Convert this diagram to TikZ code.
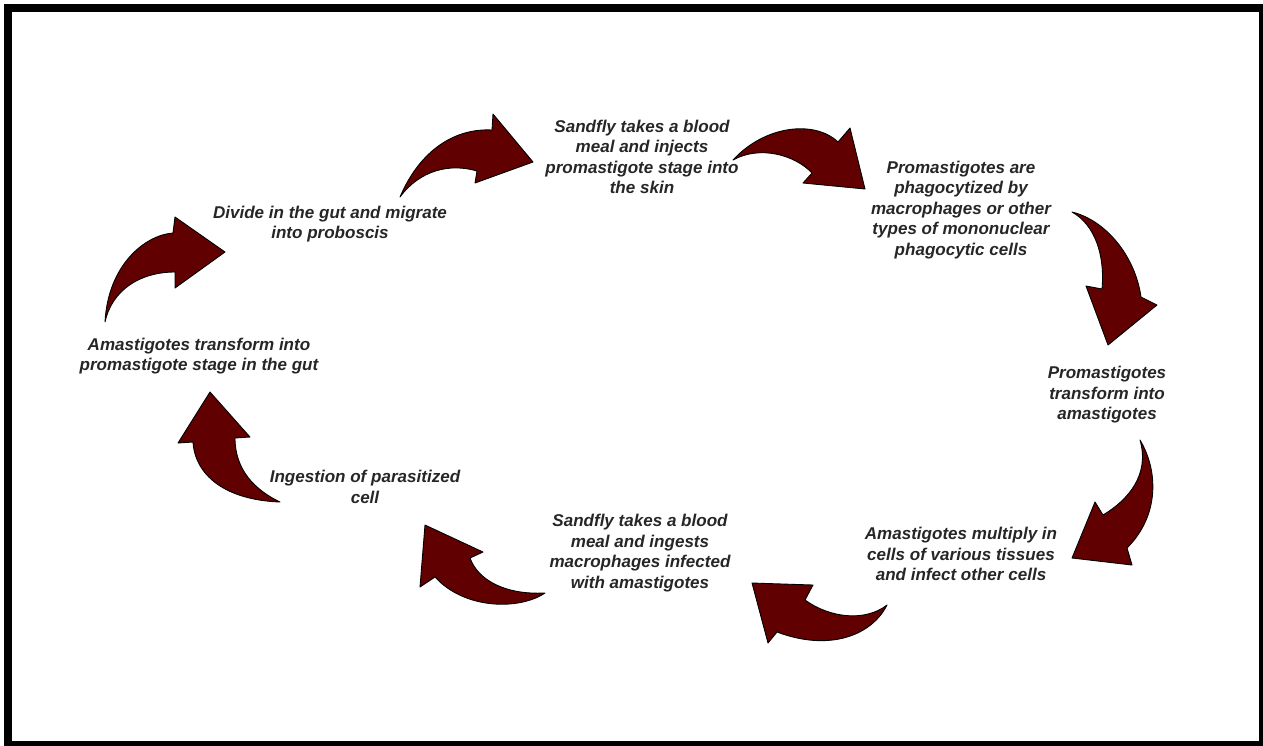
\documentclass[tikz,border=0pt]{standalone}
\usepackage{fontspec}
\setmainfont{Liberation Sans}
\definecolor{arrowred}{HTML}{600000}
\definecolor{txt}{HTML}{262626}
\begin{document}
\begin{tikzpicture}[x=0.02cm,y=-0.02cm,
  lbl/.style={align=center, font=\fontsize{9.7}{11.7}\selectfont\bfseries\itshape, text=txt, inner sep=0pt},
  arr/.style={fill=arrowred, draw=black, line width=0.5pt, line join=round},
  frame/.style={draw=black, line width=4.5pt}]
\useasboundingbox (0,0) rectangle (1263,745);
\draw[frame] (8,8) rectangle (1263,745);

% arrows
\path[arr] (400,197) .. controls (420,150) and (455,128) .. (492,130) -- (493,114) -- (533,162) -- (475,183) -- (477,171) .. controls (450,163) and (420,170) .. (400,197) -- cycle;
\path[arr] (733,160) .. controls (765,125) and (815,120) .. (838,142) -- (850,128) -- (865,189) -- (803,183) -- (812,173) .. controls (795,155) and (760,145) .. (733,160) -- cycle;
\path[arr] (1072,212) .. controls (1105,220) and (1135,255) .. (1141,297) -- (1157,305) -- (1108,345) -- (1086,286) -- (1102,289) .. controls (1105,255) and (1095,225) .. (1072,212) -- cycle;
\path[arr] (1140,440) .. controls (1158,470) and (1160,515) .. (1127,548) -- (1132,565) -- (1072,558) -- (1095,502) -- (1103,515) .. controls (1128,500) and (1150,475) .. (1140,440) -- cycle;
\path[arr] (887,605) .. controls (872,635) and (830,652) .. (777,632) -- (768,643) -- (752,583) -- (813,585) -- (805,600) .. controls (830,618) and (865,622) .. (887,605) -- cycle;
\path[arr] (545,593) .. controls (520,610) and (465,610) .. (435,577) -- (420,587) -- (425,525) -- (483,552) -- (470,558) .. controls (478,580) and (505,595) .. (545,593) -- cycle;
\path[arr] (193,442) .. controls (195,475) and (225,500) .. (280,502) .. controls (255,490) and (235,470) .. (235,438) -- (250,437) -- (210,392) -- (178,443) -- cycle;
\path[arr] (105,322) .. controls (108,265) and (145,235) .. (173,233) -- (175,217) -- (225,252) -- (175,288) -- (175,272) .. controls (140,272) and (112,290) .. (105,322) -- cycle;

% labels
\node[lbl] (s1) at (642,157) {Sandfly takes a blood\\meal and injects\\promastigote stage into\\the skin};
\node[lbl] (s2) at (961,210) {Promastigotes are\\phagocytized by\\macrophages or other\\types of mononuclear\\phagocytic cells};
\node[lbl] (s3) at (1107,395) {Promastigotes\\transform into\\amastigotes};
\node[lbl] (s4) at (961,554) {Amastigotes multiply in\\cells of various tissues\\and infect other cells};
\node[lbl] (s5) at (640,553) {Sandfly takes a blood\\meal and ingests\\macrophages infected\\with amastigotes};
\node[lbl] (s6) at (365,487) {Ingestion of parasitized\\cell};
\node[lbl] (s7) at (199,356) {Amastigotes transform into\\promastigote stage in the gut};
\node[lbl] (s8) at (330,224) {Divide in the gut and migrate\\into proboscis};
\end{tikzpicture}
\end{document}
